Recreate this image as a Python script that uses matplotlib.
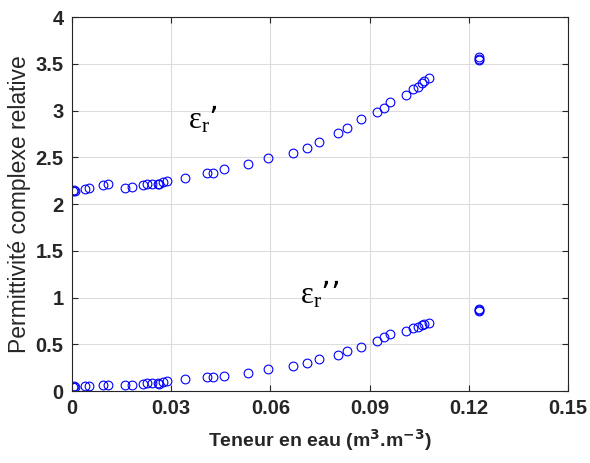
import matplotlib
matplotlib.use("Agg")
import matplotlib.pyplot as plt

# water content (m3.m-3), shared by both series
teneur = [0.0002, 0.0005, 0.0009, 0.0039, 0.0051, 0.0093, 0.0110, 0.0160, 0.0181, 0.0214,
          0.0228, 0.0241, 0.0259, 0.0264, 0.0276, 0.0288, 0.0342, 0.0409, 0.0425, 0.0460,
          0.0533, 0.0594, 0.0667, 0.0710, 0.0747, 0.0803, 0.0832, 0.0874, 0.0921, 0.0944,
          0.0962, 0.1009, 0.1032, 0.1047, 0.1057, 0.1064, 0.1079, 0.1229, 0.1230, 0.1231]

# real part eps_r'
eps_reel = [2.135, 2.150, 2.142, 2.160, 2.174, 2.203, 2.214, 2.168, 2.179, 2.203,
            2.211, 2.211, 2.211, 2.220, 2.231, 2.248, 2.281, 2.328, 2.335, 2.371,
            2.425, 2.489, 2.545, 2.596, 2.660, 2.756, 2.813, 2.906, 2.981, 3.027,
            3.088, 3.163, 3.227, 3.254, 3.291, 3.312, 3.348, 3.57, 3.55, 3.54]

# imaginary part eps_r''
eps_imag = [0.040, 0.050, 0.046, 0.053, 0.056, 0.061, 0.067, 0.061, 0.067, 0.078,
            0.082, 0.089, 0.089, 0.075, 0.099, 0.107, 0.125, 0.153, 0.153, 0.164,
            0.193, 0.238, 0.270, 0.299, 0.345, 0.388, 0.431, 0.474, 0.532, 0.578,
            0.606, 0.638, 0.671, 0.688, 0.706, 0.713, 0.730, 0.88, 0.87, 0.86]

xticks = [0, 0.03, 0.06, 0.09, 0.12, 0.15]
xticklabels = ["0", "0.03", "0.06", "0.09", "0.12", "0.15"]
yticks = [0, 0.5, 1, 1.5, 2, 2.5, 3, 3.5, 4]
yticklabels = ["0", "0.5", "1", "1.5", "2", "2.5", "3", "3.5", "4"]

plt.rcParams['font.family'] = ['Liberation Sans', 'DejaVu Sans']

fig = plt.figure(figsize=(5.9, 4.63), dpi=100)
ax = fig.add_axes([0.122, 0.1555, 0.841, 0.8075])

ax.plot(teneur, eps_reel, 'o', mfc='none', mec='#0000ff', ms=6.3, mew=0.8)
ax.plot(teneur, eps_imag, 'o', mfc='none', mec='#0000ff', ms=6.3, mew=0.8)

ax.set_xlim(0, 0.15)
ax.set_ylim(0, 4)
ax.set_xticks(xticks)
ax.set_xticklabels(xticklabels, fontsize=14.5, fontweight='bold', color='#262626')
ax.set_yticks(yticks)
ax.set_yticklabels(yticklabels, fontsize=14.5, fontweight='bold', color='#262626')
ax.tick_params(direction='in', length=4, width=0.8, colors='#262626', top=True, right=True,
               labeltop=False, labelright=False, pad=6)
ax.grid(True, color='#dcdcdc', linewidth=0.8)
ax.set_axisbelow(True)
for s in ax.spines.values():
    s.set_color('#262626')
    s.set_linewidth(0.8)

ax.set_xlabel('Teneur en eau (m$^{\\mathbf{3}}$.m$^{\\mathbf{-3}}$)', fontsize=14,
              fontweight='bold', color='#262626', labelpad=6)
ax.set_ylabel('Permittivité complexe relative', fontsize=16.5, color='#262626', labelpad=3)

ax.text(0.0351, 2.81, r"$\mathregular{ε_r}$’", family='Liberation Serif', fontsize=22,
        va='baseline', ha='left')
ax.text(0.0689, 0.94, r"$\mathregular{ε_r}$’’", family='Liberation Serif', fontsize=22,
        va='baseline', ha='left')

fig.savefig('out.png', dpi=100)
